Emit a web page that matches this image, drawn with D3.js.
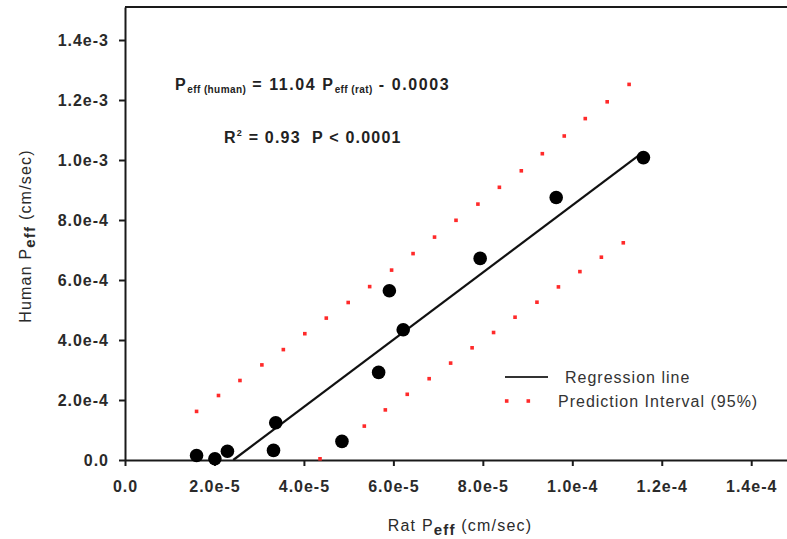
<!DOCTYPE html>
<html>
<head>
<meta charset="utf-8">
<title>Rat vs Human Peff</title>
<script src="https://d3js.org/d3.v7.min.js"></script>
<style>
  body { margin: 0; background: #fff; }
  svg { font-family: "Liberation Sans", Arial, sans-serif; }
  .axis text { font-size: 16px; font-weight: bold; fill: #2a2a2a; letter-spacing: 1px; }
  .axis path, .axis line { stroke: #1a1a1a; stroke-width: 2; }
</style>
</head>
<body>
<div id="chart"></div>
<script>
// observed points (cm/sec)
var ratPeff   = [1.60e-5, 2.01e-5, 2.29e-5, 3.32e-5, 3.37e-5, 4.85e-5, 5.67e-5, 5.91e-5, 6.22e-5, 7.94e-5, 9.64e-5, 1.159e-4];
var humanPeff = [1.5e-5, 4e-6, 2.9e-5, 3.2e-5, 1.24e-4, 6.2e-5, 2.92e-4, 5.64e-4, 4.34e-4, 6.72e-4, 8.75e-4, 1.008e-3];

// regression line end points
var regX = [2.42e-5, 1.159e-4];
var regY = [0, 1.027e-3];

// 95% prediction interval, upper band
var upperX = [1.60e-5, 2.09e-5, 2.57e-5, 3.06e-5, 3.54e-5, 4.02e-5, 4.50e-5, 4.99e-5, 5.47e-5, 5.96e-5, 6.44e-5,
              6.92e-5, 7.40e-5, 7.89e-5, 8.37e-5, 8.86e-5, 9.33e-5, 9.82e-5, 1.029e-4, 1.078e-4, 1.127e-4];
var upperY = [1.62e-4, 2.15e-4, 2.65e-4, 3.17e-4, 3.68e-4, 4.21e-4, 4.73e-4, 5.25e-4, 5.78e-4, 6.33e-4, 6.88e-4,
              7.43e-4, 7.99e-4, 8.53e-4, 9.09e-4, 9.64e-4, 1.021e-3, 1.080e-3, 1.138e-3, 1.194e-3, 1.252e-3];

// 95% prediction interval, lower band
var lowerX = [4.36e-5, 4.85e-5, 5.35e-5, 5.82e-5, 6.31e-5, 6.80e-5, 7.28e-5, 7.76e-5, 8.24e-5, 8.72e-5, 9.21e-5,
              9.69e-5, 1.017e-4, 1.065e-4, 1.114e-4];
var lowerY = [4e-6, 5.8e-5, 1.13e-4, 1.67e-4, 2.19e-4, 2.71e-4, 3.23e-4, 3.74e-4, 4.25e-4, 4.76e-4, 5.26e-4,
              5.77e-4, 6.28e-4, 6.76e-4, 7.24e-4];

var xTicks = [0, 2e-5, 4e-5, 6e-5, 8e-5, 1e-4, 1.2e-4, 1.4e-4];
var xTickLabels = ["0.0", "2.0e-5", "4.0e-5", "6.0e-5", "8.0e-5", "1.0e-4", "1.2e-4", "1.4e-4"];
var yTicks = [0, 2e-4, 4e-4, 6e-4, 8e-4, 1e-3, 1.2e-3, 1.4e-3];
var yTickLabels = ["0.0", "2.0e-4", "4.0e-4", "6.0e-4", "8.0e-4", "1.0e-3", "1.2e-3", "1.4e-3"];

var width = 787, height = 539;
var mLeft = 125, mRight = 787, mTop = 7, mBottom = 460;

var svg = d3.select("#chart").append("svg")
  .attr("width", width)
  .attr("height", height);

var x = d3.scaleLinear().domain([0, 1.48e-4]).range([mLeft, mRight]);
var y = d3.scaleLinear().domain([0, 1.51e-3]).range([mBottom, mTop]);

// top frame line
svg.append("line")
  .attr("x1", mLeft).attr("x2", mRight)
  .attr("y1", mTop).attr("y2", mTop)
  .attr("stroke", "#1a1a1a").attr("stroke-width", 2);

// axes
svg.append("g")
  .attr("class", "axis")
  .attr("transform", "translate(0," + mBottom + ")")
  .call(d3.axisBottom(x).tickValues(xTicks)
    .tickFormat(function(d, i) { return xTickLabels[i]; })
    .tickSize(6).tickPadding(15).tickSizeOuter(0));

svg.append("g")
  .attr("class", "axis")
  .attr("transform", "translate(" + mLeft + ",0)")
  .call(d3.axisLeft(y).tickValues(yTicks)
    .tickFormat(function(d, i) { return yTickLabels[i]; })
    .tickSize(6).tickPadding(10).tickSizeOuter(0));

// prediction interval dots
var red = "#ff2a2a";
var ds = 3.6;
svg.selectAll(".up").data(upperX).enter().append("rect")
  .attr("x", function(d) { return x(d) - ds / 2; })
  .attr("y", function(d, i) { return y(upperY[i]) - ds / 2; })
  .attr("width", ds).attr("height", ds)
  .attr("fill", red);

svg.selectAll(".low").data(lowerX).enter().append("rect")
  .attr("x", function(d) { return x(d) - ds / 2; })
  .attr("y", function(d, i) { return y(lowerY[i]) - ds / 2; })
  .attr("width", ds).attr("height", ds)
  .attr("fill", red);

// regression line
svg.append("line")
  .attr("x1", x(regX[0])).attr("y1", y(regY[0]))
  .attr("x2", x(regX[1])).attr("y2", y(regY[1]))
  .attr("stroke", "#111").attr("stroke-width", 2.2);

// data points
svg.selectAll(".pt").data(ratPeff).enter().append("circle")
  .attr("cx", function(d) { return x(d); })
  .attr("cy", function(d, i) { return y(humanPeff[i]); })
  .attr("r", 6.8)
  .attr("fill", "#000");

// equation text
var eq = svg.append("text")
  .attr("x", 175).attr("y", 90)
  .attr("font-size", 16).attr("font-weight", "bold").attr("fill", "#222")
  .style("letter-spacing", "1.6px");
eq.append("tspan").text("P");
eq.append("tspan").attr("font-size", 10).attr("dy", 3).style("letter-spacing", "0.4px").text("eff (human)");
eq.append("tspan").attr("dy", -3).text(" = 11.04 P");
eq.append("tspan").attr("font-size", 10).attr("dy", 3).style("letter-spacing", "0.4px").text("eff (rat)");
eq.append("tspan").attr("dy", -3).text(" - 0.0003");

var r2 = svg.append("text")
  .attr("x", 224).attr("y", 143)
  .attr("font-size", 16).attr("font-weight", "bold").attr("fill", "#222")
  .style("letter-spacing", "1.2px")
  .attr("xml:space", "preserve");
r2.append("tspan").text("R");
r2.append("tspan").attr("font-size", 9).attr("dy", -7).text("2");
r2.append("tspan").attr("dy", 7).text(" = 0.93  P < 0.0001");

// axis titles
var xt = svg.append("text")
  .attr("x", 460).attr("y", 531)
  .attr("text-anchor", "middle")
  .attr("font-size", 16).attr("fill", "#2a2a2a")
  .style("letter-spacing", "1.2px");
xt.append("tspan").text("Rat P");
xt.append("tspan").attr("font-size", 15).attr("font-weight", "bold").attr("dy", 4).text("eff");
xt.append("tspan").attr("dy", -4).text(" (cm/sec)");

var yt = svg.append("text")
  .attr("transform", "translate(31,236) rotate(-90)")
  .attr("text-anchor", "middle")
  .attr("font-size", 16).attr("fill", "#2a2a2a")
  .style("letter-spacing", "1.2px");
yt.append("tspan").text("Human P");
yt.append("tspan").attr("font-size", 15).attr("font-weight", "bold").attr("dy", 4).text("eff");
yt.append("tspan").attr("dy", -4).text(" (cm/sec)");

// legend
svg.append("line")
  .attr("x1", 505).attr("x2", 548)
  .attr("y1", 377).attr("y2", 377)
  .attr("stroke", "#333").attr("stroke-width", 2.2);
svg.append("text")
  .attr("x", 565).attr("y", 383)
  .attr("font-size", 16).attr("fill", "#333")
  .style("letter-spacing", "1px")
  .text("Regression line");

svg.selectAll(".legdot").data([506.7, 528.3]).enter().append("rect")
  .attr("x", function(d) { return d - ds / 2; })
  .attr("y", 401 - ds / 2)
  .attr("width", ds).attr("height", ds)
  .attr("fill", red);
svg.append("text")
  .attr("x", 558).attr("y", 407)
  .attr("font-size", 16).attr("fill", "#333")
  .style("letter-spacing", "1px")
  .text("Prediction Interval (95%)");
</script>
</body>
</html>
